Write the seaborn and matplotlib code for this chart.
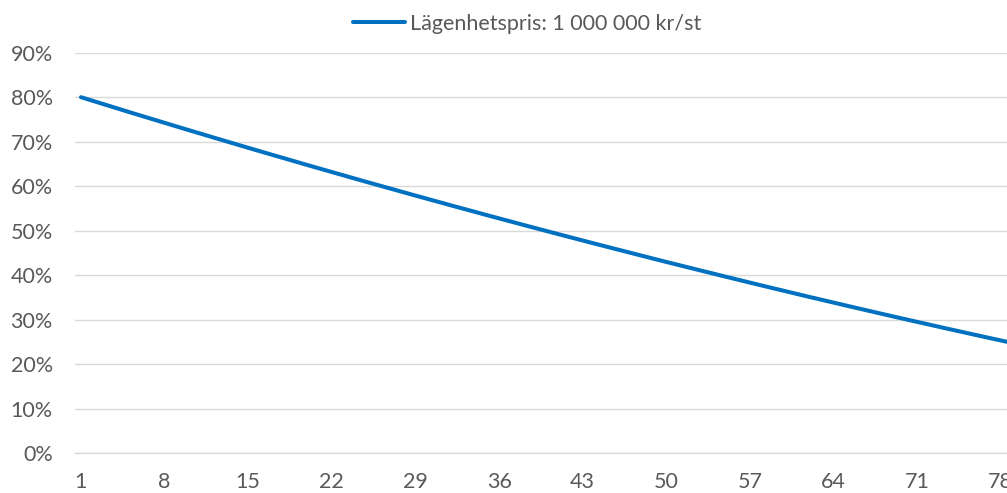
import numpy as np
import pandas as pd
import matplotlib
matplotlib.use("Agg")
import matplotlib.pyplot as plt
import seaborn as sns
from matplotlib.ticker import FixedLocator, PercentFormatter

# Belåningsgrad per period (andel av lägenhetspriset, %)
perioder = list(range(1, 81))
andel = [
    80.00, 79.17, 78.34, 77.51, 76.68, 75.86, 75.05, 74.23, 73.42, 72.61,
    71.81, 71.01, 70.21, 69.41, 68.62, 67.83, 67.05, 66.27, 65.49, 64.71,
    63.94, 63.17, 62.41, 61.64, 60.88, 60.13, 59.38, 58.63, 57.88, 57.14,
    56.40, 55.66, 54.93, 54.20, 53.47, 52.75, 52.03, 51.31, 50.60, 49.89,
    49.18, 48.48, 47.78, 47.08, 46.39, 45.70, 45.01, 44.32, 43.64, 42.96,
    42.29, 41.62, 40.95, 40.29, 39.62, 38.97, 38.31, 37.66, 37.01, 36.37,
    35.72, 35.08, 34.45, 33.82, 33.19, 32.56, 31.94, 31.32, 30.70, 30.09,
    29.48, 28.88, 28.27, 27.67, 27.08, 26.48, 25.89, 25.31, 24.72, 24.14,
]
serie_namn = "Lägenhetspris: 1 000 000 kr/st"
x_etiketter = list(range(1, 81, 7))
y_etiketter = [i / 10 for i in range(0, 10)]

df = pd.DataFrame({"period": perioder, "andel": [v / 100 for v in andel],
                   "serie": serie_namn})

sns.set_theme(style="white")
plt.rcParams["font.family"] = ["Lato", "DejaVu Sans"]

W, H = 1007, 493
fig = plt.figure(figsize=(W / 100, H / 100), dpi=100)
px_per_cat = 11.945
left_px, bottom_px, top_px = 75, 453, 52.7
n_cat = 80
ax = fig.add_axes([left_px / W, (H - bottom_px) / H,
                   n_cat * px_per_cat / W, (bottom_px - top_px) / H])

sns.lineplot(data=df, x="period", y="andel", hue="serie",
             palette=["#0070C0"], linewidth=2.9, ax=ax, legend=True)

ax.set_xlim(0.5, n_cat + 0.5)
ax.set_ylim(0, 0.9)
ax.set_xlabel("")
ax.set_ylabel("")

grey = "#595959"
fs = 15.5
ax.yaxis.set_major_locator(FixedLocator(y_etiketter))
ax.yaxis.set_major_formatter(PercentFormatter(1.0, decimals=0))
ax.grid(axis="y", color="#D9D9D9", linewidth=1.0)
ax.set_axisbelow(True)

ax.xaxis.set_major_locator(FixedLocator(x_etiketter))
ax.set_xticklabels([str(v) for v in x_etiketter])
ax.xaxis.set_minor_locator(FixedLocator(np.arange(0.5, n_cat + 1, 3)))
ax.tick_params(axis="x", which="major", length=0, pad=14, labelsize=fs,
               labelcolor=grey)
ax.tick_params(axis="x", which="minor", length=7, width=1,
               color="#D9D9D9", direction="out")
ax.tick_params(axis="y", length=0, pad=16, labelsize=fs, labelcolor=grey)

for side in ["top", "right", "left"]:
    ax.spines[side].set_visible(False)
ax.spines["bottom"].set_color("#D9D9D9")
ax.spines["bottom"].set_linewidth(1.0)

leg = ax.get_legend()
handles, labels = ax.get_legend_handles_labels()
leg.remove()
fig.legend(handles, labels, loc="center",
           bbox_to_anchor=(527 / W, 1 - 24 / H), frameon=False,
           fontsize=fs, handlelength=2.4, handletextpad=0.22,
           labelcolor=grey)

fig.savefig("out.png", dpi=100, facecolor="white")
